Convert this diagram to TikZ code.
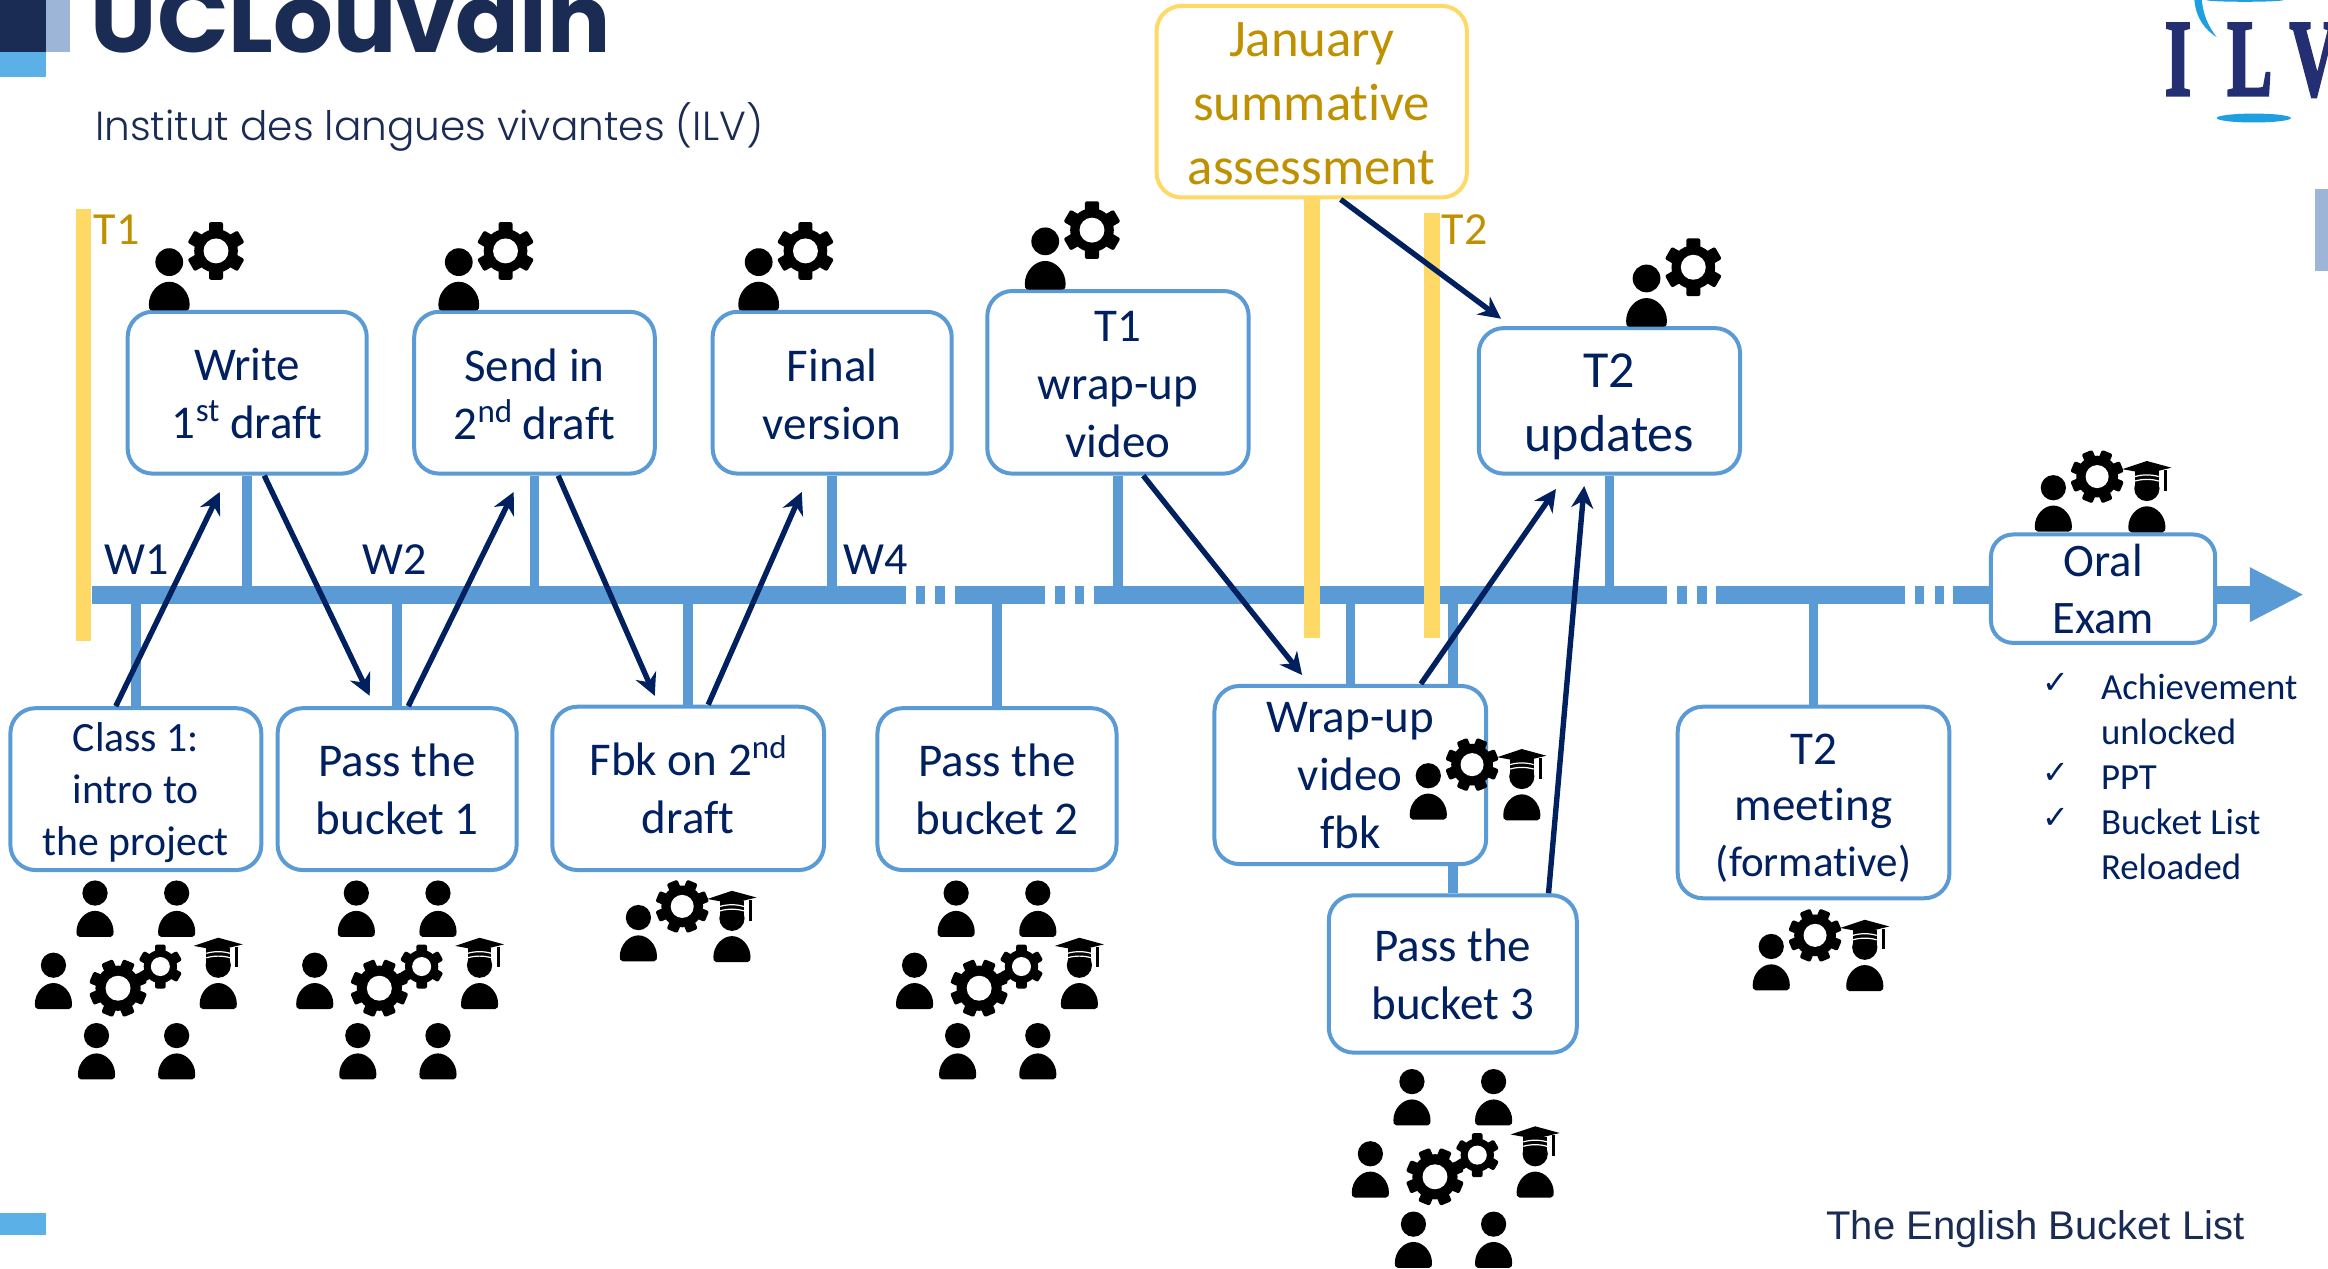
\documentclass[tikz,border=0pt]{standalone}
\usepackage{fontspec}
\usetikzlibrary{arrows.meta,calc}
\setmainfont[Ligatures=NoCommon]{Carlito}
\newfontfamily\logofont{Poppins}
\newfontfamily\logolight{Poppins Light}
\newfontfamily\serifbold[BoldFeatures={FakeBold=3}]{Liberation Serif}
\newfontfamily\arialfont{Liberation Sans}
\newfontfamily\dejavu{DejaVu Sans}
\newcommand{\sups}[1]{\raisebox{0.36em}[0pt][0pt]{\fontsize{33}{33}\selectfont #1}}
\newcommand{\lift}[1]{\rule{0pt}{#1pt}}
\definecolor{tlblue}{HTML}{5B9BD5}
\definecolor{navy}{HTML}{002060}
\definecolor{gold}{HTML}{BF9000}
\definecolor{barY}{HTML}{FFD966}
\definecolor{sky}{HTML}{5BB0E8}
\definecolor{pale}{HTML}{9DB5D6}
\definecolor{uclnavy}{HTML}{1B2C54}
\definecolor{ilvnavy}{HTML}{232F72}
\definecolor{ilvsky}{HTML}{1F9FE0}
\pgfdeclarelayer{bg}
\pgfsetlayers{bg,main}
\tikzset{
  stembar/.style={draw=tlblue,line width=9.6pt},
  goldbar/.style={fill=barY,draw=none},
  axis/.style={fill=tlblue,draw=none},
  sz/.style 2 args={minimum width=#1*1.4847pt,minimum height=#2*1.4847pt},
  bx/.style={draw=tlblue,line width=4pt,rounded corners=25pt,fill=white,inner sep=0pt,align=center,text=navy,font=\fontsize{47}{58}\selectfont},
  janbx/.style={bx,draw=barY,text=gold,font=\fontsize{52.8}{64}\selectfont},
  arr/.style={draw=navy,line width=5.4pt,-{Stealth[length=22pt,width=22pt]}},
  lbl/.style={anchor=base west,inner sep=0pt,text=navy,font=\fontsize{46}{50}\selectfont},
  tlbl/.style={lbl,text=gold,font=\fontsize{46}{50}\selectfont},
  chk/.style={inner sep=0pt,text=navy,font=\dejavu\fontsize{32}{32}\selectfont},
  pics/person/.style={code={
    \fill (0,-29.5) circle[radius=8.5];
    \fill (-10.5,0) .. controls (-12.5,0) and (-12.5,-2) .. (-12.5,-3.5) .. controls (-12.5,-11) and (-6.5,-17.5) .. (0,-17.5) .. controls (6.5,-17.5) and (12.5,-11) .. (12.5,-3.5) .. controls (12.5,-2) and (12.5,0) .. (10.5,0) -- cycle;
  }},
  pics/grad/.style={code={
    \pic {person};
    \fill (-8,-31) rectangle (8,-41);
    \draw[white,line width=1.2pt] (-8,-37.5) .. controls (-3,-39) and (3,-39) .. (8,-37.5);
    \draw[white,line width=1.2pt] (-8,-34.5) .. controls (-3,-36) and (3,-36) .. (8,-34.5);
    \fill (-16.5,-42.5) -- (0,-48) -- (16.5,-43.5) -- (0,-39.5) -- cycle;
    \fill (11.5,-42) rectangle (13.5,-28);
  }},
  pics/gearsix/.style={code={
    \fill circle[radius=14];
    \foreach \a in {0,60,...,300}{\fill[rotate=\a,rounded corners=2pt] (-4.5,-18.5) rectangle (4.5,0);}
    \fill[white] circle[radius=8];
  }},
  pics/geareight/.style={code={
    \fill circle[radius=14.5];
    \foreach \a in {0,45,...,315}{\fill[rotate=\a+22.5,rounded corners=2pt] (-4,-18.5) rectangle (4,0);}
    \fill[white] circle[radius=8];
  }},
  pics/crowd/.style={code={
    \pic at (64,631) {person};
    \pic at (119,631) {person};
    \pic at (36,679.6) {person};
    \pic at (147,679.6) {grad};
    \pic at (65,727) {person};
    \pic at (119,727) {person};
    \pic[scale=1.05] at (79.5,665.6) {geareight};
    \pic[scale=0.8] at (108,651) {gearsix};
  }},
  pics/trio/.style={code={
    \pic at (0,0) {person};
    \pic at (63,0.5) {grad};
    \pic[scale=0.97] at (29.5,-37) {geareight};
  }},
  pics/duo/.style={code={
    \pic[scale=1.1] at (0,0) {person};
    \pic[scale=1.05] at (31.5,-40) {gearsix};
  }},
}
\begin{document}
\begin{tikzpicture}[x=1.4847pt,y=-1.4847pt]
\clip (0,0) rectangle (1568,854.05);
\begin{pgfonlayer}{bg}
\fill[white] (0,0) rectangle (1568,854.05);
\end{pgfonlayer}
% logos
\fill[pale] (31,0) rectangle (47,35);
\fill[uclnavy] (0,0) rectangle (31,35);
\fill[sky] (0,35) rectangle (31,52);
\node[anchor=base west,inner sep=0pt,text=uclnavy,font=\logofont\bfseries\fontsize{94}{94}\selectfont] (ucl) at (61,35.5) {UCLouvain};
\node[anchor=base west,inner sep=0pt,text=uclnavy,font=\logolight\fontsize{40.6}{44}\selectfont] (ilvname) at (64,94.5) {Institut des langues vivantes (ILV)};
\fill[sky] (0,817) rectangle (31,832);
\fill[ilvsky] (1478,0) .. controls (1479,12) and (1485,20) .. (1493,25) .. controls (1487,17) and (1484,10) .. (1483,0) -- cycle;
\fill[ilvsky] (1512,0) ellipse[x radius=26,y radius=1.2];
\fill[ilvsky] (1518,79.5) ellipse[x radius=25,y radius=3];
\node[anchor=base west,inner sep=0pt,text=ilvnavy] (ilv) at (1458,64) {\scalebox{0.62}[1]{\serifbold\bfseries\fontsize{109}{109}\selectfont I\hspace{58pt}L\hspace{28pt}V}};
\fill[pale] (1559,127) rectangle (1568,182.5);
\node[anchor=base west,inner sep=0pt,text=uclnavy,font=\arialfont\fontsize{40}{44}\selectfont] (title) at (1230,835) {The English Bucket List};
% boxes
\node[bx,sz={161}{109}] (write) at (166.5,264.5) {\lift{33}Write\\1\sups{st} draft};
\node[bx,sz={162}{109}] (send) at (360,264.5) {\lift{35}Send in\\2\sups{nd} draft};
\node[bx,sz={161}{109}] (final) at (560.5,264.5) {\lift{35}Final\\version};
\node[bx,sz={176}{123}] (twrap) at (753,257.5) {\lift{34}T1\\wrap-up\\video};
\node[bx,sz={176}{98},font=\fontsize{52}{64}\selectfont] (tupd) at (1084,270) {\lift{45}T2\\updates};
\node[bx,sz={169}{109},font=\fontsize{41.7}{52}\selectfont] (class) at (91.5,531.5) {\lift{36}Class 1:\\intro to\\the project};
\node[bx,sz={161}{109}] (pass1) at (267.5,531.5) {Pass the\\bucket 1};
\node[bx,sz={183}{110}] (fbk) at (463.5,531) {Fbk on 2\sups{nd}\\draft};
\node[bx,sz={161}{109}] (pass2) at (671.5,531.5) {Pass the\\bucket 2};
\node[bx,sz={183}{120}] (wrap) at (909.5,522) {\lift{32}Wrap-up\\video\\fbk};
\node[bx,sz={167}{106}] (pass3) at (978.5,656) {Pass the\\bucket 3};
\node[bx,sz={183}{129},font=\fontsize{47}{56}\selectfont] (tmeet) at (1221.5,540.5) {\lift{42}T2\\meeting\\{\fontsize{43}{56}\selectfont(formative)}};
\node[bx,sz={151}{73},font=\fontsize{46.6}{57}\selectfont,rounded corners=22pt] (oral) at (1416.5,396.5) {Oral\\Exam};
\node[janbx,sz={209}{129}] (jan) at (883.5,68.5) {\lift{38}January\\summative\\assessment};
% axis and stems behind boxes
\coordinate (tl) at (62,400);
\begin{pgfonlayer}{bg}
  \foreach \a/\b in {62/610.3,617/623,630/636.5,643/704,710.6/717,724/730,737/1123,1129.7/1136,1143/1149.5,1156/1283,1289.7/1296,1303/1309.5,1315.5/1516}{
    \fill[axis] (\a,394.5) rectangle (\b,406.5);}
  \fill[axis] (1515.4,382) -- (1551,400.5) -- (1515.4,419) -- cycle;
  \foreach \n in {write,send,final,twrap,tupd}{\draw[stembar] (\n.south) -- (\n.south |- tl);}
  \foreach \n in {class,pass1,fbk,pass2,wrap,pass3,tmeet}{\draw[stembar] (\n.north) -- (\n.north |- tl);}
  \fill[goldbar] (51,141) rectangle (61.5,432);
  \fill[goldbar] (878.3,133) rectangle (889,430);
  \fill[goldbar] (959,143.4) rectangle (970,430);
\end{pgfonlayer}
% labels
\node[tlbl] (tone) at (63,165) {T1};
\node[tlbl] (ttwo) at (971,165) {T2};
\node[lbl] (wone) at (70,387) {W1};
\node[lbl] (wtwo) at (244,387) {W2};
\node[lbl] (wfour) at (568,387) {W4};
% connectors
\draw[arr] ($(class.north)+(-13.5,0)$) -- ($(write.south)+(-18.5,11)$);
\draw[arr] ($(write.south)+(11.5,0)$) -- ($(pass1.north)+(-18.5,-7)$);
\draw[arr] ($(pass1.north)+(7.5,0)$) -- ($(send.south)+(-14,11)$);
\draw[arr] ($(send.south)+(16,0)$) -- ($(fbk.north)+(-22.5,-6)$);
\draw[arr] ($(fbk.north)+(13.5,0)$) -- ($(final.south)+(-20.5,11)$);
\draw[arr] ($(twrap.south)+(17,0)$) -- ($(wrap.north)+(-32.5,-6)$);
\draw[arr] ($(wrap.north)+(47.5,0)$) -- ($(tupd.south)+(-36,9)$);
\draw[arr] ($(pass3.north)+(64.5,0)$) -- ($(tupd.south)+(-17,7)$);
\draw[arr] ($(jan.south)+(19.5,0)$) -- ($(tupd.north)+(-73,-5)$);
% list
\node[anchor=north west,inner sep=0pt,align=left,text=navy,font=\fontsize{36.8}{45}\selectfont] (list) at (1415,454) {Achievement\\unlocked\\PPT\\Bucket List\\Reloaded};
\node[chk] (cka) at (1385,460) {✓};
\node[chk] (ckb) at (1385,521) {✓};
\node[chk] (ckc) at (1385,551) {✓};
% icons
\pic at (0,0) {crowd};
\pic at (176,0) {crowd};
\pic at (580,0) {crowd};
\pic at (887,127) {crowd};
\pic at (430,647.5) {trio};
\pic at (1383,358) {trio};
\pic at (962,552) {trio};
\pic at (1193,667) {trio};
\pic at (114,209) {duo};
\pic at (309,209) {duo};
\pic at (511,209) {duo};
\pic at (704,195) {duo};
\pic at (1109,220) {duo};
\end{tikzpicture}
\end{document}
